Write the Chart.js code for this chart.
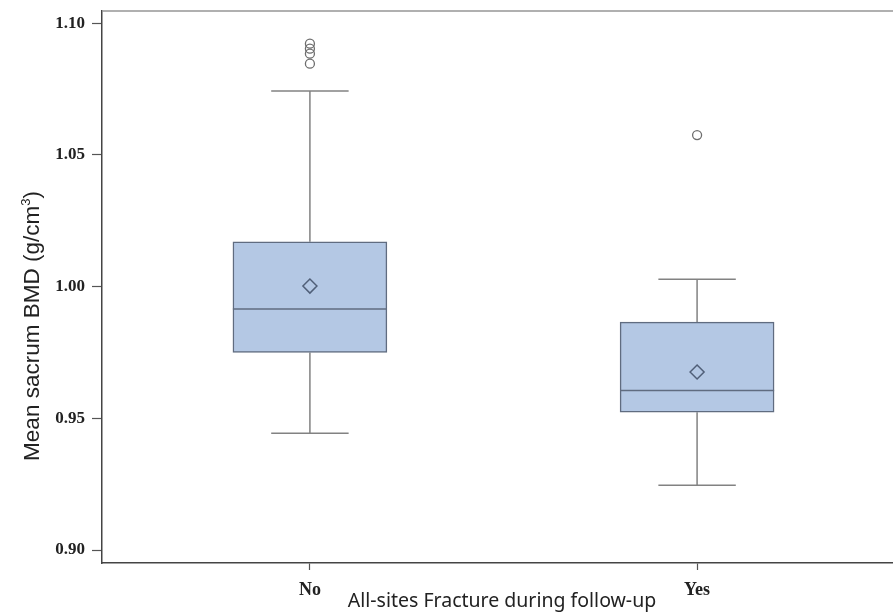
<!DOCTYPE html>
<html>
<head>
<meta charset="utf-8">
<script src="https://cdn.jsdelivr.net/npm/chart.js@4/dist/chart.umd.min.js"></script>
<style>
html,body{margin:0;padding:0;background:#fff;}
canvas{display:block;}
</style>
</head>
<body>
<canvas id="c" width="893" height="615"></canvas>
<script>
// ---- data ----
const categories = ["No", "Yes"];
const q1Values = [0.975, 0.9523];
const medianValues = [0.9915, 0.9606];
const q3Values = [1.017, 0.9865];
const meanValues = [1.0002, 0.9676];
const whiskerLow = [0.9443, 0.9246];
const whiskerHigh = [1.0742, 1.0028];
const outliersNo = [1.0922, 1.0903, 1.0884, 1.0846];
const outliersYes = [1.0575];
const yTicks = [0.90, 0.95, 1.00, 1.05, 1.10];
const yTickLabels = ["0.90", "0.95", "1.00", "1.05", "1.10"];
const yTitle = "Mean sacrum BMD (g/cm";
const yTitleSup = "3";
const yTitleEnd = ")";
const xTitle = "All-sites Fracture during follow-up";

const BOX_HALF = 0.199;
const CAP_HALF = 0.1;
const boxFill = "rgb(180,200,228)";
const boxLine = "rgb(96,108,128)";
const whiskerColor = "rgb(130,130,130)";

const outlierPoints = [];
outliersNo.forEach(v => outlierPoints.push({x: 0, y: v}));
outliersYes.forEach(v => outlierPoints.push({x: 1, y: v}));

const boxPlugin = {
  id: 'boxParts',
  beforeDatasetsDraw(chart) {
    const ctx = chart.ctx, xs = chart.scales.x, ys = chart.scales.y;
    ctx.save();
    ctx.strokeStyle = whiskerColor;
    ctx.lineWidth = 1.5;
    categories.forEach((c, i) => {
      const xc = xs.getPixelForValue(i);
      const xl = xs.getPixelForValue(i - CAP_HALF);
      const xr = xs.getPixelForValue(i + CAP_HALF);
      const yHi = ys.getPixelForValue(whiskerHigh[i]);
      const yLo = ys.getPixelForValue(whiskerLow[i]);
      const yQ3 = ys.getPixelForValue(q3Values[i]);
      const yQ1 = ys.getPixelForValue(q1Values[i]);
      ctx.beginPath();
      ctx.moveTo(xc, yHi); ctx.lineTo(xc, yQ3);
      ctx.moveTo(xc, yQ1); ctx.lineTo(xc, yLo);
      ctx.moveTo(xl, yHi); ctx.lineTo(xr, yHi);
      ctx.moveTo(xl, yLo); ctx.lineTo(xr, yLo);
      ctx.stroke();
    });
    ctx.restore();
  },
  afterDatasetsDraw(chart) {
    const ctx = chart.ctx, xs = chart.scales.x, ys = chart.scales.y;
    ctx.save();
    ctx.strokeStyle = boxLine;
    ctx.lineWidth = 1.5;
    categories.forEach((c, i) => {
      const xl = xs.getPixelForValue(i - BOX_HALF);
      const xr = xs.getPixelForValue(i + BOX_HALF);
      const ym = ys.getPixelForValue(medianValues[i]);
      ctx.beginPath();
      ctx.moveTo(xl, ym); ctx.lineTo(xr, ym);
      ctx.stroke();
    });
    ctx.restore();
  },
  afterDraw(chart) {
    const ctx = chart.ctx, a = chart.chartArea;
    ctx.save();
    // top frame line
    ctx.strokeStyle = "rgb(150,150,150)";
    ctx.lineWidth = 1.5;
    ctx.beginPath();
    ctx.moveTo(a.left, a.top); ctx.lineTo(a.right, a.top);
    ctx.stroke();
    // x title
    ctx.fillStyle = "#222";
    ctx.font = "19.5px 'Noto Sans'";
    ctx.textAlign = "center";
    ctx.textBaseline = "middle";
    ctx.fillText(xTitle, 502, 601);
    // y title rotated
    ctx.translate(31, 326);
    ctx.rotate(-Math.PI / 2);
    const big = "22.5px 'Liberation Sans'", small = "13px 'Liberation Sans'";
    ctx.font = big;
    const w1 = ctx.measureText(yTitle).width;
    const w3 = ctx.measureText(yTitleEnd).width;
    ctx.font = small;
    const w2 = ctx.measureText(yTitleSup).width;
    const total = w1 + w2 + w3;
    let x0 = -total / 2;
    ctx.textAlign = "left";
    ctx.textBaseline = "alphabetic";
    ctx.font = big;
    ctx.fillText(yTitle, x0, 8);
    ctx.font = small;
    ctx.fillText(yTitleSup, x0 + w1, -1);
    ctx.font = big;
    ctx.fillText(yTitleEnd, x0 + w1 + w2, 8);
    ctx.restore();
  }
};

new Chart(document.getElementById('c'), {
  data: {
    datasets: [
      {
        type: 'bar',
        data: categories.map((c, i) => ({x: i, y: [q1Values[i], q3Values[i]]})),
        backgroundColor: boxFill,
        borderColor: boxLine,
        borderWidth: 1.5,
        borderSkipped: false,
        barThickness: 154,
        order: 3
      },
      {
        type: 'scatter',
        data: categories.map((c, i) => ({x: i, y: meanValues[i]})),
        pointStyle: 'rectRot',
        pointRadius: 7,
        backgroundColor: 'rgba(0,0,0,0)',
        borderColor: "rgb(80,95,120)",
        borderWidth: 1.5,
        order: 1
      },
      {
        type: 'scatter',
        data: outlierPoints,
        pointStyle: 'circle',
        pointRadius: 4.5,
        backgroundColor: 'rgba(0,0,0,0)',
        borderColor: "rgb(110,110,110)",
        borderWidth: 1.3,
        order: 2
      }
    ]
  },
  options: {
    responsive: false,
    animation: false,
    layout: {autoPadding: false, padding: {left: 0, right: 0, top: 11, bottom: 0}},
    plugins: {legend: {display: false}, tooltip: {enabled: false}},
    scales: {
      x: {
        type: 'linear',
        min: -0.537,
        max: 1.506,
        offset: false,
        afterFit(s) { s.height = 52; s.paddingLeft = 0; s.paddingRight = 0; },
        afterBuildTicks(s) { s.ticks = categories.map((c, i) => ({value: i})); },
        ticks: {
          callback: (v) => categories[v],
          font: {family: "'Liberation Serif'", size: 18, weight: 'bold'},
          color: '#222',
          padding: 10,
          maxRotation: 0,
          autoSkip: false
        },
        grid: {offset: false, drawOnChartArea: false, drawTicks: true, tickLength: 7, color: '#555', tickWidth: 1.2},
        border: {display: true, color: '#444', width: 1.5}
      },
      y: {
        type: 'linear',
        min: 0.8951,
        max: 1.1046,
        afterFit(s) { s.width = 102; s.paddingTop = 0; s.paddingBottom = 0; },
        afterBuildTicks(s) { s.ticks = yTicks.map(v => ({value: v})); },
        ticks: {
          callback: (v) => yTickLabels[yTicks.findIndex(t => Math.abs(t - v) < 1e-9)],
          font: {family: "'Liberation Serif'", size: 17, weight: 'bold'},
          color: '#222',
          padding: 7
        },
        grid: {offset: false, drawOnChartArea: false, drawTicks: true, tickLength: 10, color: '#555', tickWidth: 1.2},
        border: {display: true, color: '#444', width: 1.5}
      }
    }
  },
  plugins: [boxPlugin]
});
</script>
</body>
</html>
